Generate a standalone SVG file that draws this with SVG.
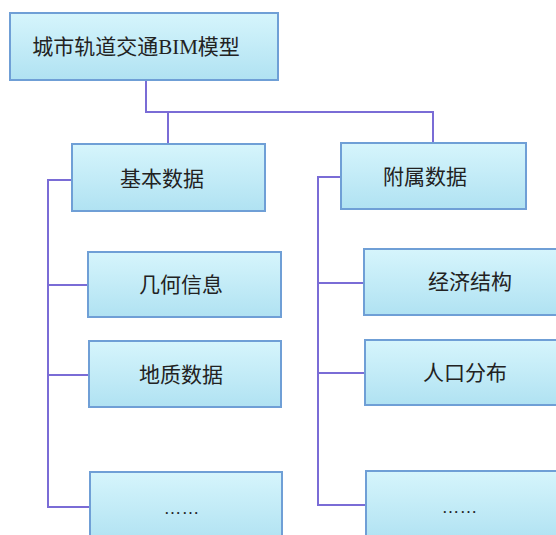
<svg xmlns="http://www.w3.org/2000/svg" width="556" height="535" viewBox="0 0 556 535">
<defs>
<linearGradient id="g" x1="0" y1="0" x2="0" y2="1">
<stop offset="0" stop-color="#d6f5fc"/>
<stop offset="1" stop-color="#b0e2f2"/>
</linearGradient>
<style>
.box{fill:url(#g);stroke:#6f9fd6;stroke-width:2}
.t{font-family:"Liberation Serif","Noto Sans CJK SC",serif;font-size:21px;fill:#222222;text-anchor:middle;dominant-baseline:central}
.e{font-size:17px;letter-spacing:1px}
.c{fill:none;stroke:#7a6cd6;stroke-width:2}
</style>
</defs>
<rect width="556" height="535" fill="#ffffff"/>
<g id="connectors">
<path class="c" d="M146 80 V112 H433 V143"/>
<path class="c" d="M168 112 V144"/>
<path class="c" d="M72 180 H48 V507 H90 M48 285 H88 M48 375 H89"/>
<path class="c" d="M341 177 H318 V505 H366 M318 283 H364 M318 373 H365"/>
</g>
<g id="root"><rect class="box" x="10" y="13" width="268" height="67"/><text class="t" x="136" y="47">城市轨道交通BIM模型</text></g>
<g id="basic"><rect class="box" x="72" y="144" width="193" height="67"/><text class="t" x="162" y="179">基本数据</text></g>
<g id="attached"><rect class="box" x="341" y="143" width="185" height="66"/><text class="t" x="425" y="177">附属数据</text></g>
<g id="geometry"><rect class="box" x="88" y="252" width="193" height="65"/><text class="t" x="181" y="285">几何信息</text></g>
<g id="geology"><rect class="box" x="89" y="341" width="192" height="66"/><text class="t" x="181" y="375">地质数据</text></g>
<g id="basic-more"><rect class="box" x="90" y="472" width="192" height="70"/><text class="t e" x="182" y="508">……</text></g>
<g id="economy"><rect class="box" x="364" y="249" width="200" height="66"/><text class="t" x="470" y="282">经济结构</text></g>
<g id="population"><rect class="box" x="365" y="340" width="200" height="65"/><text class="t" x="465" y="373">人口分布</text></g>
<g id="attached-more"><rect class="box" x="366" y="471" width="200" height="70"/><text class="t e" x="460" y="507">……</text></g>
</svg>
